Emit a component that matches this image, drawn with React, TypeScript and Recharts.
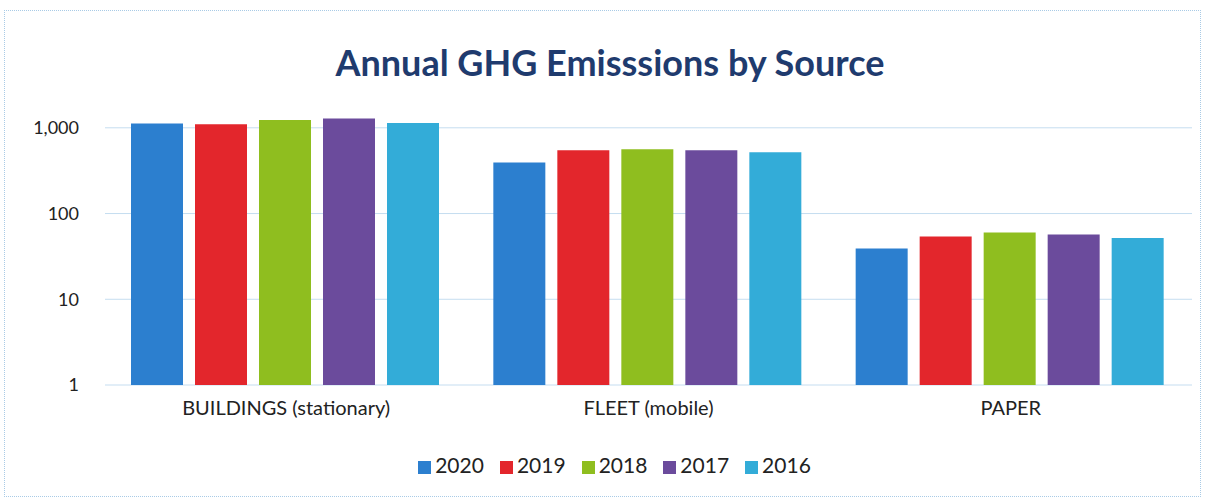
import { BarChart, Bar, XAxis, YAxis, CartesianGrid, Legend } from "recharts";

const categories = ["BUILDINGS (stationary)", "FLEET (mobile)", "PAPER"];
const years = ["2020", "2019", "2018", "2017", "2016"];
const v2020 = [1120, 395, 39];
const v2019 = [1100, 549, 54];
const v2018 = [1230, 564, 60];
const v2017 = [1280, 549, 57];
const v2016 = [1140, 520, 52];
const yTicks = [1, 10, 100, 1000];

const colors = ["#2c7fcf", "#e3262c", "#8fbe1f", "#6b4b9c", "#33acd8"];
const series = [v2020, v2019, v2018, v2017, v2016];

const data = categories.map((name, i) => {
  const row: Record<string, any> = { name };
  years.forEach((y, k) => {
    row[y] = series[k][i];
  });
  return row;
});

const font = "Lato, 'Open Sans', sans-serif";

export default function App() {
  return (
    <div
      style={{
        position: "absolute",
        left: 0,
        top: 0,
        width: 1209,
        height: 504,
        background: "#fff",
        fontFamily: font,
      }}
    >
      <div
        style={{
          position: "absolute",
          left: 4,
          top: 10,
          width: 1195,
          height: 485,
          border: "1px dotted #a9cbe6",
        }}
      />
      <div
        style={{
          position: "absolute",
          left: 0,
          top: 39,
          width: 1220,
          textAlign: "center",
          fontSize: 36,
          fontWeight: 700,
          color: "#1f3b6e",
          lineHeight: "46px",
        }}
      >
        Annual GHG Emisssions by Source
      </div>
      <div style={{ position: "absolute", left: 0, top: 0 }}>
        <BarChart
          width={1209}
          height={504}
          data={data}
          margin={{ top: 102, right: 17, left: 25, bottom: 54 }}
          barCategoryGap={26}
          barGap={12}
        >
          <CartesianGrid vertical={false} stroke="#c5ddf0" syncWithTicks />
          <XAxis
            dataKey="name"
            axisLine={false}
            tickLine={false}
            height={40}
            tickMargin={10}
            tick={{ fontSize: 20, fill: "#222", fontFamily: font }}
          />
          <YAxis
            scale="log"
            domain={[1, 2000]}
            ticks={yTicks}
            allowDataOverflow
            axisLine={false}
            tickLine={false}
            width={80}
            tickMargin={20}
            tickFormatter={(v: number) => v.toLocaleString("en-US")}
            tick={{ fontSize: 18, fill: "#222", fontFamily: font }}
          />
          <Legend
            iconType="square"
            iconSize={13}
            itemSorter={(item: any) => years.indexOf(item.value)}
            wrapperStyle={{ top: 452, paddingLeft: 14, fontSize: 21, fontFamily: font }}
            formatter={(v: string) => (
              <span style={{ color: "#222", marginRight: 6 }}>{v}</span>
            )}
          />
          {years.map((y, k) => (
            <Bar key={y} dataKey={y} fill={colors[k]} isAnimationActive={false} />
          ))}
        </BarChart>
      </div>
    </div>
  );
}
